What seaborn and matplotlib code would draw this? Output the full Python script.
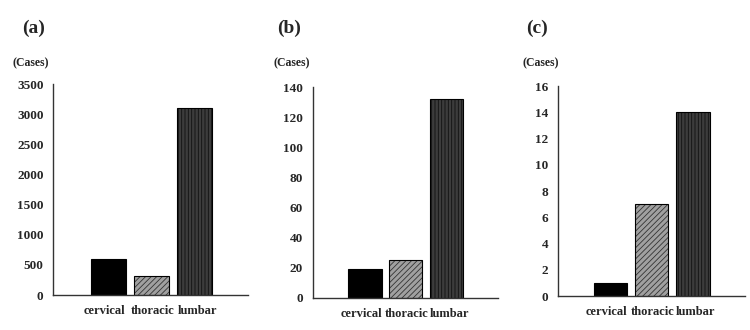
import numpy as np
import pandas as pd
import matplotlib
matplotlib.use('Agg')
import matplotlib.pyplot as plt
import matplotlib.transforms as mtransforms
import seaborn as sns

# data
levels = ['cervical', 'thoracic', 'lumbar']
cases_a = [600, 320, 3100]
cases_b = [19, 25, 132]
cases_c = [1, 7, 14]
panel_labels = ['(a)', '(b)', '(c)']
y_max = [3500, 140, 16]
y_step = [500, 20, 2]

sns.set_theme(style='white')
plt.rcParams['font.family'] = ['Liberation Serif', 'DejaVu Serif']
plt.rcParams['font.weight'] = 'bold'
plt.rcParams['hatch.linewidth'] = 0.6

fig = plt.figure(figsize=(7.5, 3.3), dpi=100)
boxes = [
    [0.071, 0.106, 0.260, 0.639],
    [0.417, 0.097, 0.247, 0.639],
    [0.744, 0.103, 0.249, 0.636],
]
face = ['black', '#a0a0a0', '#3c3c3c']
hatch = [None, '//////', '|||||']
hatch_col = ['black', '#333333', '#111111']
label_shift = [-4, 1, 3]  # px, tick labels sit a bit wider apart than the bars

for i, vals in enumerate([cases_a, cases_b, cases_c]):
    ax = fig.add_axes(boxes[i])
    df = pd.DataFrame({'level': levels, 'cases': vals})
    sns.barplot(data=df, x='level', y='cases', ax=ax, width=0.81,
                color='black', edgecolor='black', linewidth=0.8)
    for j, p in enumerate(ax.patches):
        p.set_facecolor(face[j])
        if hatch[j]:
            p.set_hatch(hatch[j])
            p._hatch_color = matplotlib.colors.to_rgba(hatch_col[j])
    ax.set_xlim(-1.28, 3.26)
    ax.set_ylim(0, y_max[i])
    ax.set_yticks(np.arange(0, y_max[i] + 1, y_step[i]))
    ax.set_xlabel('')
    ax.set_ylabel('')
    for s in ['top', 'right']:
        ax.spines[s].set_visible(False)
    for s in ['left', 'bottom']:
        ax.spines[s].set_color('#333333')
        ax.spines[s].set_linewidth(1.0)
    ax.tick_params(axis='y', length=0, labelsize=9.5, pad=7)
    ax.tick_params(axis='x', length=0, labelsize=9, pad=7)
    for t in ax.get_yticklabels():
        t.set_fontweight('bold')
    for k, t in enumerate(ax.get_xticklabels()):
        t.set_fontweight('bold')
        off = mtransforms.ScaledTranslation(label_shift[k] / 100, 0, fig.dpi_scale_trans)
        t.set_transform(t.get_transform() + off)

    fig.text([0.030, 0.369, 0.702][i], 0.915, panel_labels[i], fontsize=14,
             fontweight='bold', va='center')
    fig.text([0.017, 0.364, 0.697][i], 0.808, '(Cases)', fontsize=8.5,
             fontweight='bold', va='center')

fig.savefig('out.png', dpi=100)
